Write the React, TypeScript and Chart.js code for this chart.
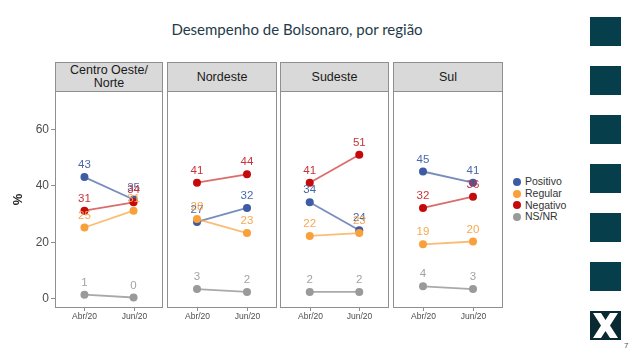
import React, { useEffect, useRef } from "react";
import { Chart, registerables } from "chart.js";
Chart.register(...registerables);

const regions = ["Centro Oeste/\nNorte", "Nordeste", "Sudeste", "Sul"];
const periods = ["Abr/20", "Jun/20"];
const seriesNames = ["Positivo", "Regular", "Negativo", "NS/NR"];
const positivo = [[43, 35], [27, 32], [34, 24], [45, 41]];
const regular = [[25, 31], [28, 23], [22, 23], [19, 20]];
const negativo = [[31, 34], [41, 44], [41, 51], [32, 36]];
const nsnr = [[1, 0], [3, 2], [2, 2], [4, 3]];
const yTicks = [0, 20, 40, 60];

const seriesValues = [positivo, regular, negativo, nsnr];
const pointColors = ["#3d5ca3", "#f9a03a", "#c40a0a", "#9a9a9a"];
const lineColors = [
  "rgba(61,92,163,0.7)",
  "rgba(249,160,58,0.7)",
  "rgba(196,10,10,0.6)",
  "rgba(154,154,154,0.85)",
];
const labelColors = ["#4a68a8", "#f7a850", "#c8323a", "#a3a3a3"];

const FONT = "'Liberation Sans', Arial, sans-serif";
const panelLefts = [55, 167, 280, 393];
const panelWidths = [108, 110, 109, 110];
const plotTop = 91;
const plotBottom = 308;
const headerTop = 62;
const borderColor = "#8f8f8f";

function Panel({ index }: { index: number }) {
  const ref = useRef<HTMLCanvasElement | null>(null);
  const padL = index === 0 ? 55 : 4;
  const padT = 4;
  const padR = 4;
  const padB = 24;
  const w = padL + panelWidths[index] + padR;
  const h = padT + (plotBottom - plotTop) + padB;
  const left = panelLefts[index] - padL;
  const top = plotTop - padT;

  useEffect(() => {
    if (!ref.current) return;
    const datasets = seriesNames.map((name, s) => ({
      label: name,
      data: periods.map((_, j) => ({ x: j, y: seriesValues[s][index][j] })),
      borderColor: lineColors[s],
      backgroundColor: pointColors[s],
      pointBackgroundColor: pointColors[s],
      pointBorderColor: pointColors[s],
      pointRadius: 4,
      pointBorderWidth: 0,
      borderWidth: 1.8,
      order: 4 - s,
    }));
    const framePlugin = {
      id: "frame",
      afterDatasetsDraw(chart: any) {
        const ctx = chart.ctx;
        ctx.save();
        ctx.font = `11.5px ${FONT}`;
        ctx.textAlign = "center";
        ctx.textBaseline = "middle";
        chart.data.datasets.forEach((ds: any, s: number) => {
          const meta = chart.getDatasetMeta(s);
          meta.data.forEach((pt: any, j: number) => {
            ctx.fillStyle = labelColors[s];
            ctx.fillText(String(ds.data[j].y), pt.x, pt.y - 12);
          });
        });
        ctx.restore();
      },
      afterDraw(chart: any) {
        const ctx = chart.ctx;
        const a = chart.chartArea;
        const xs = chart.scales.x;
        const ys = chart.scales.y;
        ctx.save();
        ctx.strokeStyle = borderColor;
        ctx.lineWidth = 1;
        ctx.strokeRect(Math.round(a.left) + 0.5, Math.round(a.top) + 0.5, Math.round(a.right - a.left) - 1, Math.round(a.bottom - a.top) - 1);
        ctx.fillStyle = "#4d4d4d";
        ctx.font = `8.5px ${FONT}`;
        ctx.textAlign = "center";
        ctx.textBaseline = "middle";
        periods.forEach((p, j) => {
          const px = Math.round(xs.getPixelForValue(j)) + 0.5;
          ctx.beginPath();
          ctx.moveTo(px, a.bottom);
          ctx.lineTo(px, a.bottom + 3);
          ctx.stroke();
          ctx.fillText(p, px, a.bottom + 8.5);
        });
        if (index === 0) {
          ctx.font = `12px ${FONT}`;
          ctx.textAlign = "right";
          yTicks.forEach((v) => {
            const py = Math.round(ys.getPixelForValue(v)) + 0.5;
            ctx.beginPath();
            ctx.moveTo(a.left - 4, py);
            ctx.lineTo(a.left, py);
            ctx.stroke();
            ctx.fillText(String(v), a.left - 6, py);
          });
          ctx.save();
          ctx.translate(18, ys.getPixelForValue(35));
          ctx.rotate(-Math.PI / 2);
          ctx.textAlign = "center";
          ctx.fillStyle = "#222";
          ctx.font = `bold 13px ${FONT}`;
          ctx.fillText("%", 0, 0);
          ctx.restore();
        }
        ctx.restore();
      },
    };
    const chart = new Chart(ref.current, {
      type: "line",
      data: { datasets },
      options: {
        animation: false,
        responsive: false,
        maintainAspectRatio: false,
        layout: { padding: { left: padL, top: padT, right: padR, bottom: padB } },
        plugins: { legend: { display: false }, tooltip: { enabled: false } },
        scales: {
          x: { type: "linear", min: -0.6, max: 1.6, display: false },
          y: { type: "linear", min: -3.75, max: 73.75, display: false },
        },
      },
      plugins: [framePlugin],
    } as any);
    return () => chart.destroy();
  }, [index]);

  return (
    <canvas
      ref={ref}
      width={w}
      height={h}
      style={{ position: "absolute", left, top, width: w, height: h }}
    />
  );
}

export default function App() {
  const squares = [17, 66, 115, 164, 213, 262];
  return (
    <div
      style={{
        position: "fixed",
        left: 0,
        top: 0,
        width: 638,
        height: 359,
        background: "#ffffff",
        overflow: "hidden",
        fontFamily: FONT,
      }}
    >
      <div
        style={{
          position: "absolute",
          left: 0,
          width: 594,
          top: 20,
          textAlign: "center",
          fontFamily: "Lato, 'Open Sans', sans-serif",
          fontSize: 15,
          color: "#1f3b49",
          lineHeight: "18px",
        }}
      >
        Desempenho de Bolsonaro, por região
      </div>
      {regions.map((r, i) => (
        <div
          key={r}
          style={{
            position: "absolute",
            left: panelLefts[i],
            top: headerTop,
            width: panelWidths[i],
            height: plotTop - headerTop + 1,
            boxSizing: "border-box",
            background: "#d9d9d9",
            border: `1px solid ${borderColor}`,
            display: "flex",
            alignItems: "center",
            justifyContent: "center",
            textAlign: "center",
            whiteSpace: "pre-line",
            fontSize: 12.5,
            lineHeight: "13px",
            color: "#1a1a1a",
          }}
        >
          {r}
        </div>
      ))}
      {regions.map((r, i) => (
        <Panel key={"p" + i} index={i} />
      ))}
      <div style={{ position: "absolute", left: 513, top: 176 }}>
        {seriesNames.map((n, s) => (
          <div key={n} style={{ display: "flex", alignItems: "center", height: 11.7 }}>
            <span
              style={{
                display: "inline-block",
                width: 8,
                height: 8,
                borderRadius: 4,
                background: pointColors[s],
                marginRight: 4,
              }}
            />
            <span style={{ fontSize: 10.5, color: "#333", lineHeight: "11px" }}>{n}</span>
          </div>
        ))}
      </div>
      {squares.map((t) => (
        <div
          key={t}
          style={{ position: "absolute", left: 590, top: t, width: 31, height: 29, background: "#063e4c" }}
        />
      ))}
      <svg style={{ position: "absolute", left: 590, top: 311 }} width={31} height={29}>
        <rect x={0} y={0} width={31} height={29} fill="#0a2a33" />
        <polygon points="3,2 11,2 15.5,9 20,2 28,2 20,14.5 28,27 20,27 15.5,20 11,27 3,27 11,14.5" fill="#fff" />
      </svg>
      <div style={{ position: "absolute", left: 624, top: 341, fontSize: 8, color: "#555" }}>7</div>
    </div>
  );
}
